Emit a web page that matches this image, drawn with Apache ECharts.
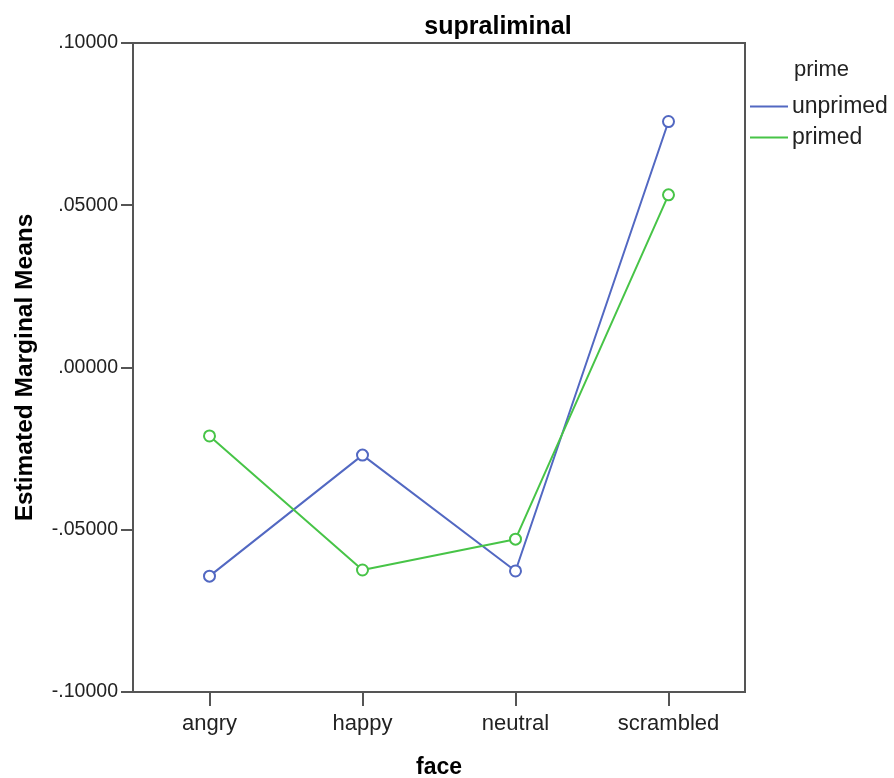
<!DOCTYPE html>
<html><head><meta charset="utf-8">
<script src="https://cdn.jsdelivr.net/npm/echarts@6/dist/echarts.min.js"></script>
<style>html,body{margin:0;padding:0;background:#fff}#c{width:894px;height:778px}</style>
</head><body><div id="c"></div>
<script>
const categories = ['angry', 'happy', 'neutral', 'scrambled'];
const unprimed = [-0.0643, -0.0270, -0.0627, 0.0758];
const primed = [-0.0211, -0.0624, -0.0529, 0.0532];
const yTicks = [-0.1, -0.05, 0, 0.05, 0.1];
const blue = '#5268C2', green = '#47C447';
const fam = 'Liberation Sans, Arial, sans-serif';
function fmt(v){ let s = Math.abs(v).toFixed(5).replace(/^0/, ''); return (v < -1e-9 ? '-' : '') + s; }
const chart = echarts.init(document.getElementById('c'));
chart.setOption({
  animation: false,
  title: [
    {text: 'supraliminal', left: 493, top: 10, textAlign: 'center', textStyle: {fontFamily: fam, fontSize: 25, fontWeight: 'bold', color: '#000'}},
    {text: 'prime', left: 789, top: 54, textStyle: {fontFamily: fam, fontSize: 22, fontWeight: 'normal', color: '#222'}}
  ],
  legend: {
    orient: 'vertical', left: 745, top: 90, itemGap: 8, itemWidth: 38, itemHeight: 2,
    data: [{name: 'unprimed', icon: 'rect'}, {name: 'primed', icon: 'rect'}],
    textStyle: {fontFamily: fam, fontSize: 23, color: '#222', padding: [0,0,0,-1]}
  },
  grid: {left: 133, top: 43, width: 612, height: 649, outerBoundsMode: 'none', containLabel: false,
    show: true, borderColor: '#555', borderWidth: 2, backgroundColor: 'transparent'},
  xAxis: {
    type: 'category', data: categories, boundaryGap: true,
    name: 'face', nameLocation: 'middle', nameGap: 64,
    nameTextStyle: {fontFamily: fam, fontSize: 23, fontWeight: 'bold', color: '#000'},
    axisLine: {onZero: false, lineStyle: {color: '#555', width: 2}},
    axisTick: {show: true, interval: 0, alignWithLabel: true, length: 14, lineStyle: {color: '#555', width: 2}},
    axisLabel: {fontFamily: fam, fontSize: 22, color: '#222', margin: 21}
  },
  yAxis: {
    type: 'value', min: -0.1, max: 0.1, interval: 0.05,
    name: 'Estimated Marginal Means', nameLocation: 'middle', nameGap: 95,
    nameTextStyle: {fontFamily: fam, fontSize: 24.5, fontWeight: 'bold', color: '#000'},
    axisLine: {show: true, lineStyle: {color: '#555', width: 2}},
    axisTick: {show: true, length: 12, lineStyle: {color: '#555', width: 2}},
    splitLine: {show: false},
    axisLabel: {fontFamily: fam, fontSize: 19.5, color: '#222', margin: 15, formatter: fmt,
      customValues: yTicks}
  },
  series: [
    {name: 'unprimed', type: 'line', data: unprimed, symbol: 'emptyCircle', symbolSize: 11,
     lineStyle: {color: blue, width: 2}, itemStyle: {color: blue, borderWidth: 1.5}},
    {name: 'primed', type: 'line', data: primed, symbol: 'emptyCircle', symbolSize: 11,
     lineStyle: {color: green, width: 2}, itemStyle: {color: green, borderWidth: 1.5}}
  ]
});
</script></body></html>
